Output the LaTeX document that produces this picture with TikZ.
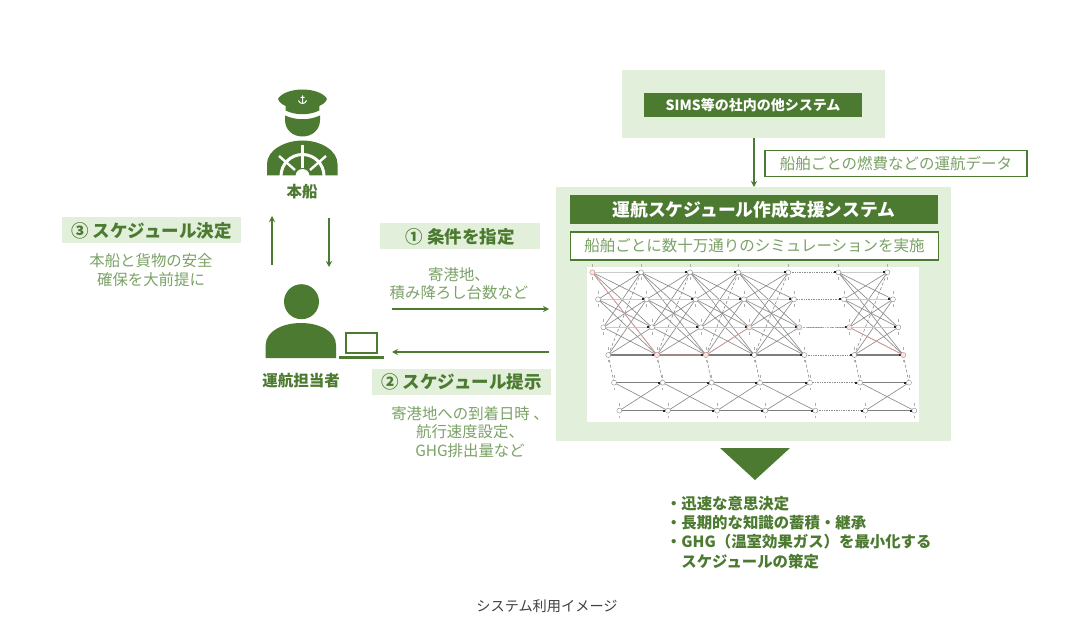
\documentclass[tikz,border=0pt]{standalone}
\usepackage{fontspec}
\setmainfont{Noto Sans CJK JP}
\usetikzlibrary{arrows.meta,calc}
\definecolor{dg}{HTML}{4B7A30}
\definecolor{lg}{HTML}{E2EFDA}
\definecolor{mg}{HTML}{7BA266}
\definecolor{gr}{HTML}{8C8C8C}
\definecolor{rd}{HTML}{E59A9A}
\tikzset{
  x=1pt,y=-1pt,
  every node/.style={inner sep=0pt,outer sep=0pt,align=center},
  panel/.style={fill=lg},
  darkbar/.style={fill=dg,text=white,font=\bfseries},
  outlinebox/.style={draw=dg,line width=1.6pt,fill=white,text=mg},
  tag/.style={fill=lg,text=dg,font=\bfseries\fontsize{17.5}{20}\selectfont,minimum height=26pt},
  note/.style={text=mg,font=\fontsize{15.4}{18.5}\selectfont},
  bold/.style={text=dg,font=\bfseries\fontsize{15.5}{18}\selectfont},
  flow/.style={draw=dg,line width=1.6pt,-{Stealth[length=6pt,width=6pt]}},
  gn/.style={draw=gr,fill=white,circle,minimum size=5pt,line width=.4pt},
  ge/.style={draw=gr,line width=.65pt},
  gl/.style={draw=gr!45,line width=.9pt},
  gd/.style={draw=gr,line width=.6pt,densely dashed},
  gh/.style={draw=gr!90!black,line width=1.1pt},
  gp/.style={draw=rd,line width=.6pt},
}
\begin{document}
\begin{tikzpicture}
\useasboundingbox (0,0) rectangle (1085,631);
\fill[white] (0,0) rectangle (1085,631);
% top system
\node[panel,minimum width=263pt,minimum height=68pt] (sims) at (753.5,104) {};
\node[darkbar,minimum width=218pt,minimum height=24pt,font=\bfseries\fontsize{14}{16}\selectfont] (simsbar) at (753,105) {SIMS等の社内の他システム};
% main panel
\node[panel,minimum width=395pt,minimum height=254pt] (main) at (753.5,314) {};
\node[darkbar,minimum width=368pt,minimum height=29pt,font=\bfseries\fontsize{17.8}{20}\selectfont] (mainbar) at (754,209.5) {運航スケジュール作成支援システム};
\node[outlinebox,minimum width=368pt,minimum height=28pt,font=\fontsize{15.5}{18}\selectfont] (simbox) at (754.5,246) {船舶ごとに数十万通りのシミュレーションを実施};
\node[outlinebox,minimum width=262pt,minimum height=26pt,font=\fontsize{15.5}{18}\selectfont,anchor=west] (data) at (765,163.5) {船舶ごとの燃費などの運航データ};
\draw[flow] (sims.south -| 754,0) -- (754,187);
% graph image
\node[fill=white,minimum width=332pt,minimum height=154pt] (graph) at (753,344.5) {};
\begin{scope}[shift={(580,260)},x=0.3333pt,y=-0.3333pt]
\foreach \r/\y/\dx in {1/37/0,2/118/17,3/202/33,4/285/48,5/368/65,6/452/81}{
  \foreach \c/\x in {1/37,2/183,3/330,4/475,5/625,6/775,7/922}{
    \coordinate (g\r-\c) at (\x+\dx,\y);
  }
}
\foreach \ca/\cb in {1/2,2/3,3/4,4/5,6/7}{
  \foreach \ra in {1,2,3,4}{
    \foreach \rb in {1,2,3,4}{
      \ifnum\ra=\rb\else
        \ifnum\ra=4 \ifnum\rb=1 \else \draw[ge] (g\ra-\ca) -- (g\rb-\cb); \fi
        \else \draw[ge] (g\ra-\ca) -- (g\rb-\cb); \fi
      \fi
    }
  }
  \draw[gd] (g4-\ca) -- (g1-\cb);
  \draw[gl] (g1-\ca) -- (g1-\cb);
  \draw[gl] (g2-\ca) -- (g2-\cb);
  \draw[gl] (g3-\ca) -- (g3-\cb);
  \draw[gh] (g4-\ca) -- (g4-\cb);
  \draw[gh] (g5-\ca) -- (g5-\cb);
  \draw[gh] (g6-\ca) -- (g6-\cb);
  \draw[ge] (g5-\ca) -- (g6-\cb);
  \draw[ge] (g6-\ca) -- (g5-\cb);
}
\foreach \r in {1,2,3,4,5,6}{ \draw[gr,densely dotted,line width=.7pt] (g\r-5) -- (g\r-6); }
\foreach \c in {1,...,7}{
  \draw[gd] (g4-\c) -- (g5-\c);
}
\draw[gp] (g1-1) -- (g4-2) -- (g4-3) -- (g3-4) -- (g3-5);
\draw[gp,densely dotted] (g3-5) -- (g3-6);
\draw[gp] (g3-6) -- (g4-7);
\foreach \r in {1,...,6}{\foreach \c in {1,...,7}{
  \node[gn] (n\r-\c) at (g\r-\c) {};
  \ifnum\c>1
    \fill[black!85] ($(g\r-\c)+(-14,-3)$) rectangle +(6,6);
  \fi
  \draw[gr!70,line width=.6pt] ($(g\r-\c)+(0,-24)$) -- +(0,9) ($(g\r-\c)+(0,15)$) -- +(0,7);
}}
\foreach \r/\c in {1/1,4/2,4/3,3/4,3/5,3/6,4/7}{ \node[gn,draw=rd,fill=rd!25] (m\r-\c) at (g\r-\c) {}; }
\end{scope}
% connectors
\coordinate (a1) at (392,309); \coordinate (a2) at (549,309);
\coordinate (b1) at (549,352); \coordinate (b2) at (392,352);
\coordinate (c1) at (272,265); \coordinate (c2) at (272,216);
\coordinate (d1) at (329,218); \coordinate (d2) at (329,267);
\draw[flow] (a1) -- (a2);
\draw[flow] (b1) -- (b2);
\draw[flow] (c1) -- (c2);
\draw[flow] (d1) -- (d2);
% tags
\node[tag,minimum width=160pt] (t1) at (460,236.5) {① 条件を指定};
\node[tag,minimum width=179pt] (t2) at (461.5,381.5) {② スケジュール提示};
\node[tag,minimum width=179pt] (t3) at (151.5,230.5) {③ スケジュール決定};
\node[note] (n1) at (459,283.5) {寄港地、\\積み降ろし台数など};
\node[note] (n2) at (470,432) {寄港地への到着日時 、\\航行速度設定、\\GHG排出量など};
\node[note] (n3) at (151,270) {本船と貨物の安全\\確保を大前提に};
\node[bold] (l1) at (302,192) {本船};
\node[bold] (l2) at (301,381) {運航担当者};
% triangle
\fill[dg] (720,448) -- (790,448) -- (755,480) -- cycle;
\node[bold,align=left,anchor=north west,font=\bfseries\fontsize{15.4}{19.3}\selectfont] (res) at (666,496) {・迅速な意思決定\\・長期的な知識の蓄積・継承\\・GHG（温室効果ガス）を最小化する\\　スケジュールの策定};
\node[font=\fontsize{14.2}{16}\selectfont,text=black!75] (cap) at (547,606) {システム利用イメージ};
% captain
\fill[dg] (278,99) .. controls (281,93) and (292,89.5) .. (302.5,89.5) .. controls (313,89.5) and (324,93) .. (327,99) .. controls (326,103) and (321,105) .. (319.3,106) -- (319.3,110.5) .. controls (309,115.5) and (296,115.5) .. (285.5,110.5) -- (285.5,106) .. controls (284,105) and (279,103) .. cycle;
\fill[dg] (285,115.5) .. controls (296,120.5) and (309,120.5) .. (320,115.5) -- (320,120) .. controls (320,130) and (312,136.5) .. (302.5,136.5) .. controls (293,136.5) and (285,130) .. (285,120) -- cycle;
\fill[dg] (267,175.5) -- (267,164) .. controls (267,150) and (285,140.5) .. (302.5,140.5) .. controls (320,140.5) and (337.5,150) .. (337.5,164) -- (337.5,175.5) -- cycle;
\begin{scope}
\clip (267,140.5) rectangle (337.5,175.5);
\draw[white,line width=3pt] (302.5,176) circle (21.5);
\draw[white,line width=2.4pt] (302.5,145) -- (302.5,168);
\draw[white,line width=2.4pt] (279,156) -- (295,170);
\draw[white,line width=2.4pt] (326,156) -- (310,170);
\fill[white] (302.5,176) circle (7);
\end{scope}
\draw[white,line width=1pt] (302.5,95.5) -- (302.5,104) (298.5,100.5) .. controls (299.5,104.5) and (305.5,104.5) .. (306.5,100.5) (300.5,97.5) -- (304.5,97.5);
% operator
\fill[dg] (301.5,301.7) circle (17.5);
\fill[dg] (265.7,358) -- (265.7,345) .. controls (265.7,331) and (283,323) .. (301,323) .. controls (319,323) and (336,331) .. (336,345) -- (336,358) -- cycle;
\draw[dg,line width=2pt] (346,353) -- (346,333) -- (377,333) -- (377,353) -- cycle;
\fill[dg] (339,356) -- (384,356) -- (384,358.7) -- (339,358.7) -- cycle;
\end{tikzpicture}
\end{document}
